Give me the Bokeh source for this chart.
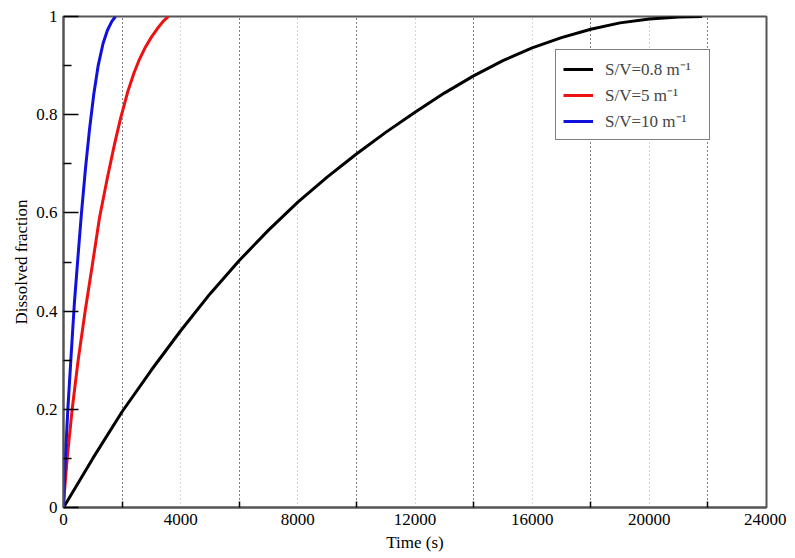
from bokeh.plotting import figure
from bokeh.models import Range1d, Legend, LegendItem, FixedTicker
from bokeh.embed import file_html
from bokeh.resources import INLINE

# Data
t_black = [0, 1000, 2000, 3000, 4000, 5000, 6000, 7000, 8000, 9000, 10000, 11000,
           12000, 13000, 14000, 15000, 16000, 17000, 18000, 19000, 20000, 21000, 21800]
f_black = [0, 0.10, 0.195, 0.28, 0.36, 0.435, 0.503, 0.565, 0.622, 0.673, 0.72, 0.764,
           0.805, 0.844, 0.879, 0.91, 0.936, 0.957, 0.974, 0.987, 0.995, 0.999, 1.0]

t_red = [0, 30, 126, 296, 500, 740, 1000, 1229, 1500, 1750, 1946, 2200, 2400, 2572,
         2800, 3000, 3200, 3400, 3580]
f_red = [0, 0.03, 0.1, 0.2, 0.3, 0.4, 0.5, 0.59, 0.672, 0.742, 0.792, 0.848, 0.884, 0.91,
         0.938, 0.958, 0.975, 0.99, 1.0]

t_blue = [0, 15, 63, 148, 250, 370, 500, 614, 750, 888, 1030, 1184, 1350, 1500, 1650, 1775]
f_blue = [0, 0.03, 0.1, 0.2, 0.3, 0.415, 0.515, 0.6, 0.69, 0.77, 0.84, 0.9, 0.945, 0.972,
          0.99, 1.0]

labels = ["S/V=0.8 m\u207b\u00b9", "S/V=5 m\u207b\u00b9", "S/V=10 m\u207b\u00b9"]
x_ticks = [0, 4000, 8000, 12000, 16000, 20000, 24000]
x_minor = [2000, 6000, 10000, 14000, 18000, 22000]
y_ticks = [0, 0.2, 0.4, 0.6, 0.8, 1.0]
y_minor = [0.1, 0.3, 0.5, 0.7, 0.9]

FONT = "Liberation Serif"

p = figure(frame_width=703, frame_height=491, output_backend="svg",
           toolbar_location=None, x_range=Range1d(0, 24000), y_range=Range1d(0, 1),
           min_border_left=63, min_border_top=16, min_border_right=20, min_border_bottom=40)
p.background_fill_color = "white"
p.border_fill_color = "white"
p.outline_line_color = "#555555"
p.outline_line_width = 2

r1 = p.line(t_black, f_black, line_color="black", line_width=3)
r2 = p.line(t_red, f_red, line_color="#ee1111", line_width=3)
r3 = p.line(t_blue, f_blue, line_color="#1111dd", line_width=3)

xax = p.xaxis[0]
xax.ticker = FixedTicker(ticks=x_ticks, minor_ticks=x_minor)
xax.axis_label = "Time (s)"
yax = p.yaxis[0]
yax.ticker = FixedTicker(ticks=y_ticks, minor_ticks=y_minor)
yax.major_label_overrides = {0: "0", 0.2: "0.2", 0.4: "0.4", 0.6: "0.6", 0.8: "0.8", 1.0: "1"}
yax.axis_label = "Dissolved fraction"

for ax in (xax, yax):
    ax.axis_line_color = "#555555"
    ax.axis_line_width = 2
    ax.major_tick_out = 0
    ax.minor_tick_out = 0
    ax.major_label_text_font = FONT
    ax.major_label_text_font_size = "17px"
    ax.major_label_text_color = "black"
    ax.axis_label_text_font = FONT
    ax.axis_label_text_font_size = "17px"
    ax.axis_label_text_font_style = "normal"
    ax.axis_label_text_color = "black"
    ax.major_tick_line_color = "black"
    ax.minor_tick_line_color = "black"
    ax.major_tick_line_width = 1.5
    ax.minor_tick_line_width = 1.5

xax.major_tick_in = 0
xax.minor_tick_in = 6
xax.major_label_standoff = 6
xax.axis_label_standoff = 5
yax.major_tick_in = 15
yax.minor_tick_in = 8
yax.major_label_standoff = 6
yax.axis_label_standoff = 2

p.xgrid.ticker = FixedTicker(ticks=x_ticks, minor_ticks=x_minor)
p.xgrid.grid_line_color = "#aaaaaa"
p.xgrid.grid_line_dash = "1 3"
p.xgrid.grid_line_width = 1
p.xgrid.minor_grid_line_color = "black"
p.xgrid.minor_grid_line_dash = "1 3"
p.xgrid.minor_grid_line_width = 1
p.ygrid.grid_line_color = None

legend = Legend(items=[LegendItem(label=labels[0], renderers=[r1]),
                       LegendItem(label=labels[1], renderers=[r2]),
                       LegendItem(label=labels[2], renderers=[r3])],
                location=(492, 367))
legend.label_text_font = FONT
legend.label_text_font_size = "17px"
legend.glyph_width = 30
legend.glyph_height = 20
legend.label_height = 20
legend.label_width = 97
legend.label_standoff = 12
legend.spacing = 3
legend.padding = 7
legend.margin = 0
legend.border_line_color = "black"
legend.border_line_width = 1.5
legend.background_fill_color = "white"
legend.background_fill_alpha = 1
p.add_layout(legend, "center")

open("out.html", "w").write(file_html(p, INLINE))
